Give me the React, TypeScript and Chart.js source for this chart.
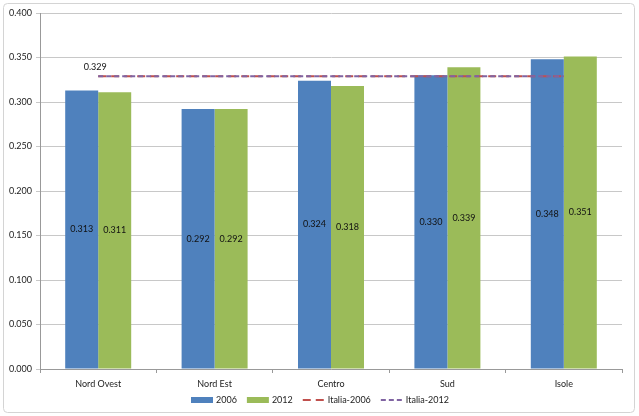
import React, { useEffect, useRef } from "react";
import { Chart, registerables } from "chart.js";

Chart.register(...registerables);

const categories = ["Nord Ovest", "Nord Est", "Centro", "Sud", "Isole"];
const values2006 = [0.313, 0.292, 0.324, 0.33, 0.348];
const values2012 = [0.311, 0.292, 0.318, 0.339, 0.351];
const italia2006 = [0.329, 0.329, 0.329, 0.329, 0.329];
const italia2012 = [0.329, 0.329, 0.329, 0.329, 0.329];
const italiaLabel = "0.329";

const FONT = "Lato, 'DejaVu Sans Condensed', sans-serif";

const borderPlugin = {
  id: "outerBorder",
  beforeDraw(chart: any) {
    const ctx = chart.ctx;
    ctx.save();
    ctx.fillStyle = "#ffffff";
    ctx.fillRect(0, 0, chart.width, chart.height);
    ctx.strokeStyle = "#d4d4d4";
    ctx.lineWidth = 1;
    const x = 3.5, y = 3.5, w = chart.width - 8, h = chart.height - 7, r = 4;
    ctx.beginPath();
    ctx.moveTo(x + r, y);
    ctx.lineTo(x + w - r, y);
    ctx.quadraticCurveTo(x + w, y, x + w, y + r);
    ctx.lineTo(x + w, y + h - r);
    ctx.quadraticCurveTo(x + w, y + h, x + w - r, y + h);
    ctx.lineTo(x + r, y + h);
    ctx.quadraticCurveTo(x, y + h, x, y + h - r);
    ctx.lineTo(x, y + r);
    ctx.quadraticCurveTo(x, y, x + r, y);
    ctx.stroke();
    ctx.restore();
  },
};

const labelPlugin = {
  id: "barLabels",
  afterDatasetsDraw(chart: any) {
    const ctx = chart.ctx;
    ctx.save();
    ctx.font = `9px ${FONT}`;
    ctx.fillStyle = "#111111";
    ctx.textAlign = "center";
    ctx.textBaseline = "middle";
    [0, 1].forEach((di) => {
      const meta = chart.getDatasetMeta(di);
      const data = chart.data.datasets[di].data as number[];
      meta.data.forEach((el: any, i: number) => {
        const yMid = (el.y + el.base) / 2;
        ctx.fillText(data[i].toFixed(3), el.x, yMid);
      });
    });
    const lm = chart.getDatasetMeta(2);
    const p0 = lm.data[0];
    if (p0) {
      ctx.fillText(italiaLabel, p0.x - 3, p0.y - 9);
    }
    ctx.restore();
  },
};

const legendPlugin = {
  id: "customLegend",
  afterDraw(chart: any) {
    const ctx = chart.ctx;
    ctx.save();
    ctx.font = `9px ${FONT}`;
    ctx.textBaseline = "middle";
    ctx.textAlign = "left";
    const cy = 400;
    const boxW = 22;
    const textOff = 25;
    const itemGap = 10;
    const datasets = chart.data.datasets;
    const widths = datasets.map((ds: any) => textOff + ctx.measureText(ds.label).width);
    const total = widths.reduce((a: number, b: number) => a + b, 0) + itemGap * (datasets.length - 1);
    let x = Math.round(chart.width / 2 - total / 2);
    datasets.forEach((ds: any, i: number) => {
      const isLine = ds.type === "line";
      if (isLine) {
        ctx.strokeStyle = ds.borderColor;
        ctx.lineWidth = 2;
        ctx.setLineDash(ds.borderDash);
        ctx.beginPath();
        ctx.moveTo(x, cy);
        ctx.lineTo(x + boxW, cy);
        ctx.stroke();
        ctx.setLineDash([]);
      } else {
        ctx.fillStyle = ds.backgroundColor;
        ctx.fillRect(x, cy - 3, boxW, 6);
      }
      ctx.fillStyle = "#222222";
      ctx.fillText(ds.label, x + textOff, cy);
      x += widths[i] + itemGap;
    });
    ctx.restore();
  },
};

export default function App() {
  const ref = useRef<HTMLCanvasElement | null>(null);
  useEffect(() => {
    if (!ref.current) return;
    const chart = new Chart(ref.current, {
      type: "bar",
      data: {
        labels: categories,
        datasets: [
          {
            label: "2006",
            data: values2006,
            backgroundColor: "#4F81BD",
            borderWidth: 0,
            categoryPercentage: 0.567,
            barPercentage: 1,
            order: 2,
          } as any,
          {
            label: "2012",
            data: values2012,
            backgroundColor: "#9BBB59",
            borderWidth: 0,
            categoryPercentage: 0.567,
            barPercentage: 1,
            order: 2,
          } as any,
          {
            type: "line",
            label: "Italia-2006",
            data: italia2006,
            borderColor: "#C0504D",
            backgroundColor: "#C0504D",
            borderWidth: 2,
            borderDash: [8, 5],
            pointRadius: 0,
            fill: false,
            order: 1,
          } as any,
          {
            type: "line",
            label: "Italia-2012",
            data: italia2012,
            borderColor: "#8064A2",
            backgroundColor: "#8064A2",
            borderWidth: 2,
            borderDash: [5, 3],
            pointRadius: 0,
            fill: false,
            order: 0,
          } as any,
        ],
      },
      options: {
        responsive: false,
        animation: false,
        devicePixelRatio: 1,
        layout: { padding: { left: 0, right: 17, top: 13, bottom: 27 } },
        plugins: {
          legend: { display: false },
          tooltip: { enabled: false },
        },
        scales: {
          x: {
            grid: {
              drawOnChartArea: false,
              offset: true,
              tickLength: 4,
              color: "#999999",
            },
            border: { color: "#999999" },
            ticks: {
              color: "#222222",
              font: { family: FONT, size: 9 },
              padding: 6,
            },
            afterFit(scale: any) {
              scale.height = 20;
            },
          },
          y: {
            min: 0,
            max: 0.4,
            ticks: {
              stepSize: 0.05,
              color: "#222222",
              font: { family: FONT, size: 9 },
              padding: 4,
              callback: (v: any) => Number(v).toFixed(3),
            },
            grid: {
              color: "#c8c8c8",
              tickLength: 4,
            },
            border: { color: "#999999" },
            afterFit(scale: any) {
              scale.width = 40;
            },
          },
        },
      },
      plugins: [borderPlugin, labelPlugin, legendPlugin],
    });
    return () => chart.destroy();
  }, []);
  return (
    <div style={{ position: "absolute", left: 0, top: 0, width: 639, height: 416 }}>
      <canvas ref={ref} width={639} height={416} />
    </div>
  );
}
